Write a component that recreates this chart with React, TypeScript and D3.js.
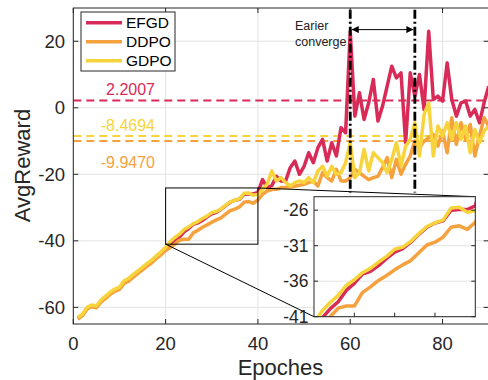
import React, { useRef, useEffect } from "react";
import * as d3 from "d3";

// reward per epoch (epoch = index + 1)
const efgd = [
  -63.3, -62.2, -60.3, -59.5, -59.9, -58.1, -57, -55.8, -54.9, -54.2,
  -52.4, -51.6, -50.5, -49.4, -48.3, -47.2, -46.2, -44.9, -43.8, -42.4,
  -41.2, -39.9, -38.9, -37.3, -36.3, -35, -34.6, -33.8, -32.8, -31.9,
  -31.4, -30.5, -29.4, -28.4, -27.8, -27.5, -26, -25.9, -25.9, -25.4,
  -21.6, -24, -23.4, -20.6, -22, -22, -18, -16, -20, -17.6,
  -13.5, -16.5, -12, -9.5, -16, -10.5, -14.5, -6, -7.5, 23,
  -2.5, 4.5, -3.5, 1.5, 8.5, -4, 0.5, 6.5, 12.5, 9,
  10.5, -10.5, 10.5, 3.5, 10, -0.5, 23, 2.5, 3.5, 2,
  13.5, 2.5, -2.5, 1.5, 2, -2.5, -0.5, -4.5, 1.5, 6.5,
];
const ddpo = [
  -63.5, -62.4, -60.5, -59.8, -60.1, -58.4, -57.3, -56.1, -55.2, -54.6,
  -52.8, -52.1, -50.9, -49.8, -48.7, -47.6, -46.6, -45.3, -44.2, -42.9,
  -42, -41, -39.8, -39.5, -39.5, -37.6, -36.8, -35.9, -35.2, -34.4,
  -33.7, -33.1, -32, -30.9, -30.5, -29.8, -28.4, -28.2, -28.7, -27.7,
  -26, -25, -24.6, -24.5, -24, -24, -23.8, -23.6, -23.3, -23,
  -22.5, -22, -23.5, -19.5, -21, -22, -18.5, -22, -22, -21,
  -18.5, -19.5, -20.6, -21.6, -21, -20.6, -18, -15, -21, -15.5,
  -20, -17, -14.5, -10, -12, -10, -9, -8, -11.5, -7,
  -13.5, -3, -11, -4.5, -9.5, -5, -14.5, -8.5, -3, -5.5,
];
const gdpo = [
  -63, -62, -60, -59.3, -59.6, -57.8, -56.6, -55.4, -54.5, -53.9,
  -52, -51.3, -50.1, -49, -47.9, -46.8, -45.8, -44.5, -43.3, -41.9,
  -40.2, -39, -38, -36.6, -35.8, -34.8, -34.2, -33.3, -32.5, -31.5,
  -31.2, -30.4, -29.3, -28.3, -27.8, -27.4, -25.7, -25.6, -26.3, -26.1,
  -24.5, -23, -19, -22, -21, -22.5, -23.5, -22.5, -22, -22.5,
  -21, -22.5, -19, -17.6, -20.6, -17.6, -20, -19.5, -16.5, -10.5,
  -21, -19.5, -12.5, -19, -13.5, -15, -16.5, -19.5, -15.5, -10.5,
  -17.5, -11.5, -9.5, -4.5, -14.5, -2, 1.5, -14.5, -5.5, -8.5,
  -4.5, -9.5, -4.5, -9.5, -5.5, -13.5, -6.5, -10.5, -7, -5.5,
];
const seriesNames = ["EFGD", "DDPO", "GDPO"];
const seriesColors = ["#d92b58", "#f5a13e", "#f7d43c"];
const avgValues = [2.2007, -9.947, -8.4694];
const xTicks = [0, 20, 40, 60, 80];
const yTicks = [-60, -40, -20, 0, 20];
const insetTicks = [-41, -36, -31, -26];
const markEpochs = [60, 74];

const FONT = "'Liberation Sans', Arial, Helvetica, sans-serif";

export default function App() {
  const ref = useRef<SVGSVGElement>(null);

  useEffect(() => {
    if (!ref.current) return;
    const svg = d3.select(ref.current);
    svg.selectAll("*").remove();

    const all = [efgd, ddpo, gdpo];
    const x = d3.scaleLinear().domain([0, 90]).range([73.3, 488.7]);
    const y = d3.scaleLinear().domain([-65, 30]).range([324, 8]);
    const ix = d3.scaleLinear().domain([20, 40]).range([314, 475.3]);
    const iy = d3.scaleLinear().domain([-41, -24.1]).range([316.7, 196.7]);

    const defs = svg.append("defs");
    defs.append("clipPath").attr("id", "mainClip").append("rect")
      .attr("x", x(0)).attr("y", y(30)).attr("width", x(90) - x(0)).attr("height", y(-65) - y(30));
    defs.append("clipPath").attr("id", "insetClip").append("rect")
      .attr("x", ix(20)).attr("y", iy(-24.1)).attr("width", ix(40) - ix(20)).attr("height", iy(-41) - iy(-24.1));
    defs.append("marker").attr("id", "arr").attr("viewBox", "0 0 10 10")
      .attr("refX", 10).attr("refY", 5).attr("markerWidth", 9).attr("markerHeight", 7)
      .attr("markerUnits", "userSpaceOnUse").attr("orient", "auto-start-reverse")
      .append("path").attr("d", "M0,0L10,5L0,10z").attr("fill", "#000");

    // grid
    const grid = svg.append("g").attr("stroke", "#e3e3e3").attr("stroke-width", 1);
    xTicks.forEach(t => grid.append("line").attr("x1", x(t)).attr("x2", x(t)).attr("y1", y(30)).attr("y2", y(-65)));
    yTicks.forEach(t => grid.append("line").attr("x1", x(0)).attr("x2", x(90)).attr("y1", y(t)).attr("y2", y(t)));

    const plot = svg.append("g").attr("clip-path", "url(#mainClip)");

    // average lines
    avgValues.forEach((v, i) => {
      plot.append("line")
        .attr("x1", x(0)).attr("x2", x(90)).attr("y1", y(v)).attr("y2", y(v))
        .attr("stroke", seriesColors[i]).attr("stroke-width", 2).attr("stroke-dasharray", "8,5");
    });

    const line = d3.line<number>().x((_, i) => x(i + 1)).y(d => y(d));
    [0, 1, 2].forEach(k => {
      plot.append("path").datum(all[k]).attr("fill", "none")
        .attr("stroke", seriesColors[k]).attr("stroke-width", 3.5)
        .attr("stroke-linejoin", "round").attr("d", line);
    });

    // convergence markers
    markEpochs.forEach(e => {
      svg.append("line").attr("x1", x(e)).attr("x2", x(e)).attr("y1", y(29.5)).attr("y2", y(-25.5))
        .attr("stroke", "#000").attr("stroke-width", 2.8).attr("stroke-dasharray", "9,3,2,3");
    });
    svg.append("line")
      .attr("x1", x(markEpochs[0]) + 1.5).attr("x2", x(markEpochs[1]) - 1.5)
      .attr("y1", y(23.5)).attr("y2", y(23.5))
      .attr("stroke", "#000").attr("stroke-width", 1)
      .attr("marker-start", "url(#arr)").attr("marker-end", "url(#arr)");
    const note = svg.append("text").attr("font-family", FONT).attr("font-size", 12.5).attr("fill", "#222");
    note.append("tspan").attr("x", 295).attr("y", 30).text("Earier");
    note.append("tspan").attr("x", 295).attr("y", 46).text("converge");

    // average labels
    const labelY = [95, 168, 131];
    avgValues.forEach((v, i) => {
      svg.append("text").attr("x", 155).attr("y", labelY[i]).attr("text-anchor", "end")
        .attr("font-family", FONT).attr("font-size", 16).attr("fill", seriesColors[i])
        .text(v.toFixed(4));
    });

    // axes box + ticks
    const ax = svg.append("g").attr("stroke", "#262626").attr("stroke-width", 1).attr("fill", "none");
    ax.append("rect").attr("x", x(0)).attr("y", y(30)).attr("width", x(90) - x(0)).attr("height", y(-65) - y(30));
    xTicks.forEach(t => {
      ax.append("line").attr("x1", x(t)).attr("x2", x(t)).attr("y1", y(-65)).attr("y2", y(-65) - 5);
      ax.append("line").attr("x1", x(t)).attr("x2", x(t)).attr("y1", y(30)).attr("y2", y(30) + 5);
    });
    yTicks.forEach(t => {
      ax.append("line").attr("x1", x(0)).attr("x2", x(0) + 5).attr("y1", y(t)).attr("y2", y(t));
      ax.append("line").attr("x1", x(90)).attr("x2", x(90) - 5).attr("y1", y(t)).attr("y2", y(t));
    });
    xTicks.forEach(t => {
      svg.append("text").attr("x", x(t)).attr("y", 350).attr("text-anchor", "middle")
        .attr("font-family", FONT).attr("font-size", 18.5).attr("fill", "#262626").text(t);
    });
    yTicks.forEach(t => {
      svg.append("text").attr("x", 65).attr("y", y(t)).attr("dy", "0.35em").attr("text-anchor", "end")
        .attr("font-family", FONT).attr("font-size", 18.5).attr("fill", "#262626").text(t);
    });
    svg.append("text").attr("x", 280.5).attr("y", 375).attr("text-anchor", "middle")
      .attr("font-family", FONT).attr("font-size", 22).attr("fill", "#262626").text("Epoches");
    svg.append("text").attr("transform", "translate(30,165.5) rotate(-90)").attr("text-anchor", "middle")
      .attr("font-family", FONT).attr("font-size", 22).attr("fill", "#262626").text("AvgReward");

    // zoom rectangle and connectors
    const z = svg.append("g").attr("stroke", "#000").attr("stroke-width", 1).attr("fill", "none");
    z.append("rect").attr("x", x(20)).attr("y", y(-24.1)).attr("width", x(40) - x(20)).attr("height", y(-41) - y(-24.1));
    z.append("line").attr("x1", x(40)).attr("y1", y(-24.1)).attr("x2", ix(40)).attr("y2", iy(-24.1));
    z.append("line").attr("x1", x(20)).attr("y1", y(-41)).attr("x2", ix(20)).attr("y2", iy(-41));

    // inset
    const inset = svg.append("g");
    inset.append("rect").attr("x", ix(20)).attr("y", iy(-24.1)).attr("width", ix(40) - ix(20))
      .attr("height", iy(-41) - iy(-24.1)).attr("fill", "#fff");
    insetTicks.forEach(t => {
      inset.append("line").attr("x1", ix(20)).attr("x2", ix(40)).attr("y1", iy(t)).attr("y2", iy(t))
        .attr("stroke", "#e3e3e3");
    });
    const iline = d3.line<number>().x((_, i) => ix(i + 1)).y(d => iy(d));
    const ip = inset.append("g").attr("clip-path", "url(#insetClip)");
    [0, 1, 2].forEach(k => {
      ip.append("path").datum(all[k].slice(0, 42)).attr("fill", "none")
        .attr("stroke", seriesColors[k]).attr("stroke-width", 3.5)
        .attr("stroke-linejoin", "round").attr("d", iline);
    });
    inset.append("rect").attr("x", ix(20)).attr("y", iy(-24.1)).attr("width", ix(40) - ix(20))
      .attr("height", iy(-41) - iy(-24.1)).attr("fill", "none").attr("stroke", "#262626");
    insetTicks.forEach(t => {
      inset.append("line").attr("x1", ix(20)).attr("x2", ix(20) + 4).attr("y1", iy(t)).attr("y2", iy(t)).attr("stroke", "#262626");
      inset.append("line").attr("x1", ix(40)).attr("x2", ix(40) - 4).attr("y1", iy(t)).attr("y2", iy(t)).attr("stroke", "#262626");
      inset.append("text").attr("x", 308.5).attr("y", iy(t)).attr("dy", "0.35em").attr("text-anchor", "end")
        .attr("font-family", FONT).attr("font-size", 17.5).attr("fill", "#262626").text(t);
    });
    [25, 30, 35].forEach(t => {
      inset.append("line").attr("x1", ix(t)).attr("x2", ix(t)).attr("y1", iy(-41)).attr("y2", iy(-41) - 4).attr("stroke", "#262626");
    });

    // legend
    const lg = svg.append("g");
    lg.append("rect").attr("x", 81).attr("y", 12).attr("width", 94).attr("height", 59)
      .attr("fill", "#fff").attr("stroke", "#262626").attr("stroke-width", 1);
    seriesNames.forEach((n, i) => {
      const ly = 22.7 + i * 19;
      lg.append("line").attr("x1", 86).attr("x2", 122).attr("y1", ly).attr("y2", ly)
        .attr("stroke", seriesColors[i]).attr("stroke-width", 3.5);
      lg.append("text").attr("x", 126).attr("y", ly).attr("dy", "0.35em")
        .attr("font-family", FONT).attr("font-size", 15.5).attr("fill", "#000").text(n);
    });
  }, []);

  return (
    <svg ref={ref} width={488} height={380}
      style={{ position: "fixed", left: 0, top: 0, background: "#fff" }} />
  );
}
